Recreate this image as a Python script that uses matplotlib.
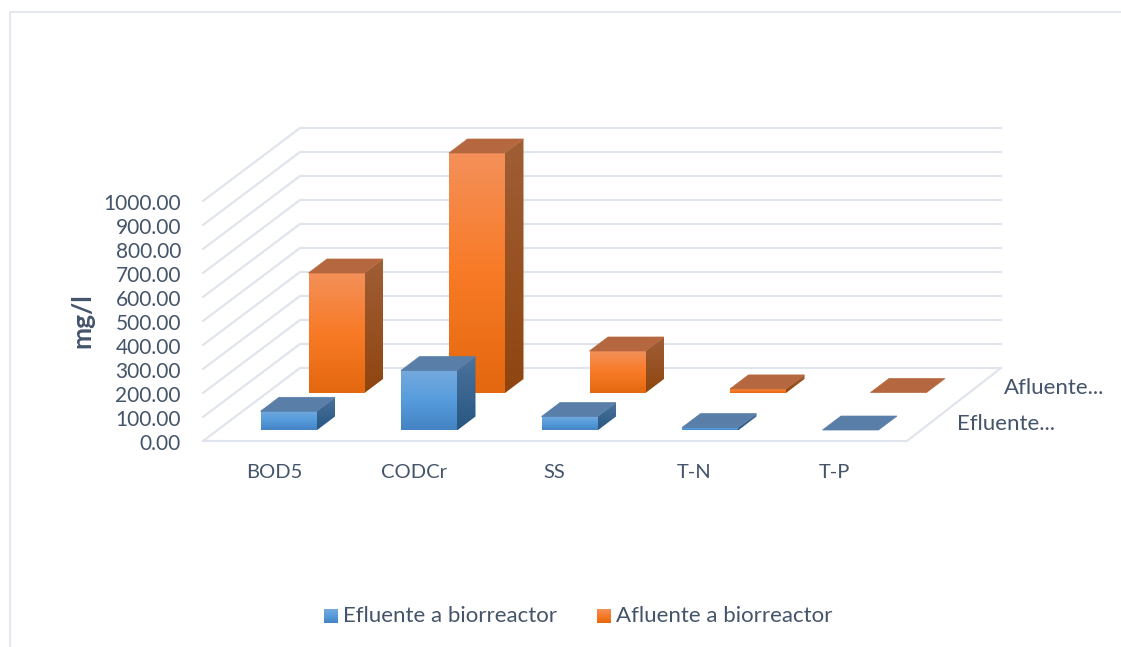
import numpy as np
import matplotlib
matplotlib.use('Agg')
from matplotlib import pyplot as plt
from matplotlib.colors import LinearSegmentedColormap
from matplotlib.patches import Polygon

categories = ['BOD5', 'CODCr', 'SS', 'T-N', 'T-P']
efluente = [80, 250, 58, 12, 2]
afluente = [500, 1000, 175, 17, 2]
y_ticks = [0, 100, 200, 300, 400, 500, 600, 700, 800, 900, 1000]
series_names = ['Efluente a biorreactor', 'Afluente a biorreactor']
depth_labels = ['Efluente...', 'Afluente...']

TEXT = '#44546a'
GRID = '#dfe3ec'
PX_PER_UNIT = 240 / 1000

plt.rcParams['font.family'] = ['Lato', 'DejaVu Sans']

fig = plt.figure(figsize=(11.21, 6.47), dpi=100)
ax = fig.add_axes([0, 0, 1, 1])
ax.set_xlim(0, 1121)
ax.set_ylim(647, 0)
ax.axis('off')

# chart frame, cut off by the picture at right and bottom
ax.plot([10, 10, 1121], [647, 12, 12], color=GRID, lw=1.2, zorder=1)


def wall(value):
    return 368 - value * PX_PER_UNIT


def side(value):
    return 441 - value * PX_PER_UNIT


# walls and floor
for t in y_ticks:
    ax.plot([203, 300, 1001], [side(t), wall(t), wall(t)], color=GRID, lw=1.5, zorder=1)
ax.plot([203, 907, 1001], [441, 441, 368], color=GRID, lw=1.5, zorder=1)


def gradient_face(x0, x1, y0, y1, colors, zorder):
    # the gradient runs over the visible face from top to bottom
    cmap = LinearSegmentedColormap.from_list('f', colors)
    grad = np.linspace(0, 1, 64).reshape(-1, 1)
    ax.imshow(grad, cmap=cmap, aspect='auto', extent=[x0, x1, y1, y0], zorder=zorder, interpolation='bilinear')


def bar3d(x, base, height, front, side_top, side_bottom, top, zorder):
    w, dx, dy = 56, 18.5, 14
    y = base - height
    if height > 0.6:
        gradient_face(x, x + w, y, base, front, zorder)
        side_cmap = LinearSegmentedColormap.from_list('s', [side_top, side_bottom])
        grad = np.linspace(0, 1, 64).reshape(-1, 1)
        im = ax.imshow(grad, cmap=side_cmap, aspect='auto', zorder=zorder,
                       extent=[x + w, x + w + dx, base, y - dy])
        clip = Polygon([(x + w, y), (x + w + dx, y - dy), (x + w + dx, base - dy), (x + w, base)],
                       closed=True, transform=ax.transData, fc='none', ec='none')
        ax.add_patch(clip)
        im.set_clip_path(clip)
    ax.add_patch(Polygon([(x, y), (x + dx, y - dy), (x + w + dx, y - dy), (x + w, y)], closed=True,
                         fc=top, ec=top, lw=0.5, zorder=zorder + 0.1))


blue_front = ['#74a9de', '#569cdc', '#4483c4']
orange_front = ['#f49059', '#f87a26', '#e4680f']

# back row first so the front row covers it
for i in range(5):
    x = 308.5 + 140.5 * i
    bar3d(x, 393, afluente[i] * PX_PER_UNIT, orange_front, '#a05e36', '#8f450f', '#b5683f', 3)
for i in range(5):
    x = 260.5 + 140.5 * i
    bar3d(x, 430.5, efluente[i] * PX_PER_UNIT, blue_front, '#4b739d', '#285782', '#597ea8', 4)

# value axis
for t in y_ticks:
    ax.text(181, side(t) + 2.5, f'{t:.2f}', ha='right', va='center', fontsize=15, color=TEXT)
ax.text(82, 320.5, 'mg/l', rotation=90, ha='center', va='center', fontsize=19, color=TEXT, fontweight='bold')

# category and series axes
for i, c in enumerate(categories):
    ax.text(274 + 140 * i, 473, c, ha='center', va='center', fontsize=14.5, color=TEXT)
ax.text(957, 424.5, depth_labels[0], ha='left', va='center', fontsize=16, color=TEXT)
ax.text(1004, 388.5, depth_labels[1], ha='left', va='center', fontsize=16, color=TEXT)

# legend
for x_box, x_text, name, cols in [(324, 343, series_names[0], blue_front), (597, 616, series_names[1], orange_front)]:
    gradient_face(x_box, x_box + 14, 609, 623, cols, 5)
    ax.text(x_text, 616, name, ha='left', va='center', fontsize=16, color=TEXT)
ax.set_xlim(0, 1121)
ax.set_ylim(647, 0)

fig.savefig('out.png', dpi=100, facecolor='white')
plt.close('all')
